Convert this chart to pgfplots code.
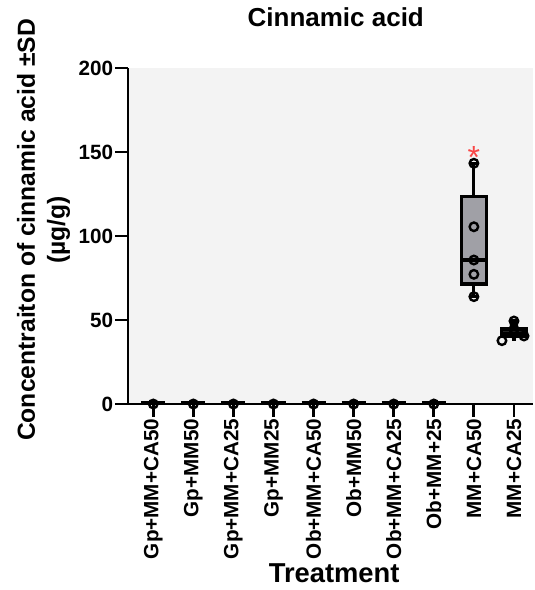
\documentclass[border=0pt]{standalone}
\usepackage{pgfplots}
\pgfplotsset{compat=1.18}
\usepackage{fontspec}
\setmainfont{Liberation Sans}
\definecolor{boxgray}{RGB}{160,160,166}
\definecolor{bgc}{RGB}{243,243,243}
\definecolor{starred}{RGB}{250,70,70}
\begin{document}
\begin{tikzpicture}
\path[use as bounding box] (0,0) rectangle (401.25pt,-442.5pt);
\begin{axis}[
  at={(96pt,-303pt)}, anchor=south west,
  scale only axis, width=303.75pt, height=252pt,
  xmin=-0.63, xmax=9.475, ymin=0, ymax=200,
  clip=false,
  unbounded coords=jump,
  axis background/.style={fill=bgc},
  axis lines=left,
  axis line style={-, line width=2.2pt, black},
  tick align=outside,
  major tick length=9.5pt,
  every tick/.style={line width=2.2pt, black},
  minor tick num=0,
  /pgf/number format/assume math mode=true,
  ytick={0,50,100,150,200},
  xtick={0,...,9},
  xticklabels={Gp+MM+CA50,Gp+MM50,Gp+MM+CA25,Gp+MM25,Ob+MM+CA50,Ob+MM50,Ob+MM+CA25,Ob+MM+25,MM+CA50,MM+CA25},
  x tick label style={rotate=90, anchor=east, inner sep=1.5pt, font=\bfseries\fontsize{15.5}{17}\selectfont},
  y tick label style={inner sep=1.5pt, font=\bfseries\fontsize{15.5}{17}\selectfont},
  title={Cinnamic acid},
  title style={at={(axis description cs:0.513,1.127)}, anchor=center, font=\bfseries\fontsize{19.5}{22}\selectfont},
  xlabel={Treatment},
  xlabel style={at={(axis description cs:0.509,-0.503)}, anchor=center, inner sep=0pt, font=\bfseries\fontsize{20.5}{23}\selectfont},
  ylabel={Concentraiton of cinnamic acid ±SD\\(µg/g)},
  ylabel style={at={(axis description cs:-0.2086,0.518)}, anchor=center, align=center, font=\bfseries\fontsize{18.5}{22.5}\selectfont},
]
% near-zero groups: flat boxes
\addplot[black, line width=2.6pt] coordinates {
 (-0.3,0.6) (0.3,0.6) (0.5,nan) (0.7,0.6) (1.3,0.6) (1.5,nan)
 (1.7,0.6) (2.3,0.6) (2.5,nan) (2.7,0.6) (3.3,0.6) (3.5,nan)
 (3.7,0.6) (4.3,0.6) (4.5,nan) (4.7,0.6) (5.3,0.6) (5.5,nan)
 (5.7,0.6) (6.3,0.6) (6.5,nan) (6.7,0.6) (7.3,0.6)
};
% MM+CA50: whiskers
\addplot[black, line width=2.4pt] coordinates {(8,63.9) (8,71.4) (8.1,nan) (8,123.4) (8,143.3)};
\addplot[black, line width=2.4pt] coordinates {(7.89,63.9) (8.11,63.9) (8.2,nan) (7.89,143.3) (8.11,143.3)};
% MM+CA50: box
\addplot[fill=boxgray, draw=black, line width=2.4pt] coordinates {(7.69,71.4) (8.31,71.4) (8.31,123.4) (7.69,123.4)} -- cycle;
\addplot[black, line width=2.4pt] coordinates {(7.69,85.7) (8.31,85.7)};
% MM+CA25: whiskers
\addplot[black, line width=2.4pt] coordinates {(9,37.7) (9,40.1) (9.1,nan) (9,44.6) (9,49.4)};
\addplot[black, line width=2.4pt] coordinates {(8.89,49.4) (9.11,49.4)};
% MM+CA25: box
\addplot[fill=black!85, draw=black, line width=2.4pt] coordinates {(8.69,40.1) (9.31,40.1) (9.31,44.6) (8.69,44.6)} -- cycle;
\addplot[black, line width=2.4pt] coordinates {(8.69,42.0) (9.31,42.0)};
% individual points
\addplot[only marks, mark=o, mark size=3.2pt, line width=1.8pt, black] coordinates {
 (0,0) (1,0) (2,0) (3,0) (4,0) (5,0) (6,0) (7,0)
 (8,143.3) (8,105.5) (8,85.7) (8,77.2) (8,63.9)
 (9,49.4) (9,44.6) (9,42.0) (8.7,37.7) (9.25,40.5)
};
\node[text=starred, font=\fontsize{24}{24}\selectfont] at (axis cs:8,147) {*};
\end{axis}
\end{tikzpicture}
\end{document}
